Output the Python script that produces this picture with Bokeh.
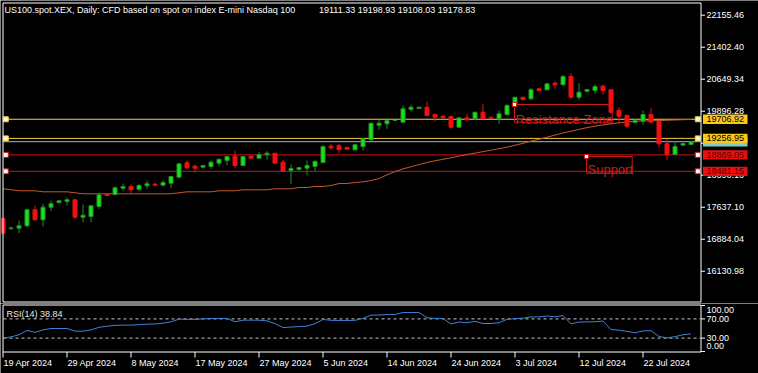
from bokeh.plotting import figure
from bokeh.models import Range1d, ColumnDataSource
from bokeh.core.properties import value
from bokeh.layouts import column
from bokeh.embed import file_html
from bokeh.resources import INLINE

# ---------------- data ----------------
symbol_title = "US100.spot.XEX, Daily:  CFD based on spot on index E-mini Nasdaq 100"
date_labels = ["19 Apr 2024", "29 Apr 2024", "8 May 2024", "17 May 2024", "27 May 2024",
               "5 Jun 2024", "14 Jun 2024", "24 Jun 2024", "3 Jul 2024", "12 Jul 2024", "22 Jul 2024"]
date_label_bars = [0, 8, 16, 24, 32, 40, 48, 56, 64, 72, 80]

open_ = [17365, 17135, 17144, 17200, 17577, 17341, 17638, 17748, 17772, 17812,
         17402, 17419, 17654, 17953, 17937, 18085, 18125, 18061, 18141, 18179,
         18155, 18202, 18344, 18683, 18603, 18579, 18595, 18673, 18737, 18838,
         18619, 18838, 18791, 18871, 18908, 18697, 18501, 18525, 18556, 18595,
         18690, 19073, 19083, 19043, 18988, 19066, 19224, 19567, 19600, 19678,
         19638, 19937, 19960, 19991, 19819, 19779, 19772, 19520, 19741, 19718,
         19873, 19755, 19718, 19819, 20071, 20226, 20188, 20424, 20400, 20555,
         20518, 20713, 20226, 20367, 20384, 20485, 20400, 19913, 19795, 19631,
         19661, 19819, 19661, 19130, 18878, 19097, 19111.33]
high = [17395, 17185, 17325, 17600, 17678, 17718, 17795, 17790, 17859, 17815,
        17701, 17671, 17953, 17967, 18125, 18195, 18172, 18188, 18266, 18212,
        18266, 18362, 18666, 18737, 18635, 18620, 18737, 18768, 18832, 18972,
        18833, 18840, 18932, 18955, 18910, 18753, 18643, 18573, 18737, 18721,
        19090, 19130, 19130, 19045, 19130, 19271, 19615, 19694, 19732, 19682,
        20031, 20047, 19995, 20125, 19836, 19795, 19773, 19743, 19836, 19874,
        20071, 19757, 19913, 20071, 20227, 20227, 20447, 20425, 20555, 20603,
        20753, 20791, 20555, 20408, 20525, 20518, 20402, 19991, 19819, 19718,
        19913, 19967, 19663, 19247, 19191, 19138, 19198.93]
low = [16995, 17100, 17026, 17167, 17325, 17184, 17544, 17718, 17678, 17365,
       17285, 17278, 17600, 17890, 17913, 18031, 17977, 18014, 18071, 18132,
       18132, 18085, 18320, 18532, 18454, 18577, 18541, 18603, 18626, 18556,
       18617, 18788, 18789, 18760, 18659, 18483, 18188, 18501, 18384, 18485,
       18673, 18988, 18908, 19000, 18972, 18972, 19207, 19459, 19483, 19676,
       19636, 19890, 19958, 19794, 19661, 19725, 19483, 19518, 19678, 19694,
       19716, 19730, 19600, 19795, 20054, 20148, 20165, 20382, 20384, 20424,
       20501, 20188, 20165, 20337, 20306, 20290, 19836, 19600, 19497, 19630,
       19577, 19636, 19036, 18753, 18876, 19095, 19108.03]
close = [17026, 17150, 17200, 17577, 17341, 17638, 17718, 17788, 17812, 17402,
         17450, 17671, 17930, 17913, 18094, 18125, 18047, 18148, 18188, 18155,
         18219, 18360, 18659, 18565, 18556, 18619, 18697, 18767, 18831, 18619,
         18831, 18791, 18871, 18908, 18673, 18485, 18548, 18572, 18619, 18720,
         19066, 19036, 18995, 19003, 19106, 19247, 19614, 19614, 19678, 19680,
         19953, 19991, 19991, 19795, 19755, 19748, 19520, 19741, 19694, 19873,
         19718, 19732, 19836, 20031, 20226, 20172, 20400, 20384, 20541, 20518,
         20713, 20226, 20344, 20407, 20478, 20384, 19873, 19779, 19544, 19678,
         19819, 19638, 19130, 18878, 19066, 19137, 19178.83]
moving_avg = [18071, 18047, 18024, 18024, 18024, 18000, 18000, 18000, 18000, 17977,
              17953, 17953, 17953, 17953, 17953, 17953, 17953, 17953, 17953, 17953,
              17953, 17953, 17977, 18000, 18000, 18000, 18000, 18024, 18024, 18024,
              18047, 18047, 18047, 18047, 18071, 18071, 18071, 18101, 18101, 18125,
              18125, 18148, 18195, 18195, 18219, 18235, 18266, 18310, 18400, 18475,
              18540, 18590, 18640, 18690, 18730, 18765, 18800, 18840, 18880, 18910,
              18945, 18980, 19015, 19050, 19095, 19140, 19195, 19235, 19285, 19335,
              19385, 19425, 19470, 19510, 19545, 19575, 19600, 19625, 19645, 19660,
              19668, 19672, 19677, 19683, 19690, 19696, 19701]
rsi = [30, 32.5, 37, 46, 42, 47, 50, 50, 50, 44.5,
       44.5, 47, 52.5, 54.8, 56.5, 57, 57, 58, 59, 59.5,
       61, 64, 69.4, 69, 69, 70, 70.8, 71, 71, 64,
       67.3, 67.3, 67.3, 66, 60, 52, 53, 54, 55, 60,
       68.8, 67, 66.7, 66.7, 67, 71, 77.7, 78, 79.2, 79.2,
       83.3, 83.3, 83.3, 72.5, 71, 70.8, 59.5, 63.5, 62, 65,
       60.4, 60.4, 62, 69, 70.5, 71.5, 74.2, 74.2, 76, 74.5,
       77, 59.5, 63.5, 63.8, 64, 65.5, 48, 46.5, 44, 41,
       45, 45.5, 33.5, 30.4, 33, 37, 38.84]

price_ticks = [22155.46, 21402.40, 20649.34, 19896.28, 19143.22, 18390.16, 17637.10, 16884.04, 16130.98]
resistance_levels = [19706.92, 19256.95]
support_levels = [18869.05, 18481.15]
resistance_zone = [20054, 19638]   # top, bottom price of the drawn zone
support_zone = [18831, 18438]
rsi_levels = [70, 30]
rsi_ticks = [100, 70, 30, 0]

# ---------------- style / layout helpers ----------------
FONT = value("Liberation Sans")
FS = value("9px")
BULL_FILL, BULL_LINE = "#14e614", "#22902a"
BEAR_FILL, BEAR_LINE = "#f01010", "#f01010"
YELLOW = "#f5cd3c"
TAG_YELLOW = "#f8c81e"
RED_LINE = "#c8141a"
TAG_RED = "#e81010"
BID = "#7fcfc6"
MA_COLOR = "#c8582a"
RSI_BLUE = "#3f7fd8"
ZONE_RED = "#d01818"

W, H_MAIN, H_RSI = 758, 303, 70
PX_PER_BAR = 8.0
PX_PER_PT = 23.53          # price units per pixel in the main pane
PRICE_AT_TOP = 22501.4     # price at canvas row 0
RSI_PX = 0.48              # pixels per RSI unit
RSI_ZERO_ROW = 49          # row of RSI 0 inside the RSI canvas


def xb(px):   # screen column -> bar coordinate
    return (px - 2.5) / PX_PER_BAR


def yp(py):   # screen row -> price (main pane)
    return PRICE_AT_TOP - PX_PER_PT * py


def yr(py):   # screen row -> RSI value (RSI pane)
    return (RSI_ZERO_ROW - py) / RSI_PX


x_rng = Range1d(xb(0), xb(W))
n = len(close)
idx = list(range(n))
bull = [c >= o for o, c in zip(open_, close)]
src = ColumnDataSource(dict(
    x=idx, high=high, low=low,
    top=[max(o, c) for o, c in zip(open_, close)],
    bottom=[min(o, c) for o, c in zip(open_, close)],
    fill=[BULL_FILL if b else BEAR_FILL for b in bull],
    line=[BULL_LINE if b else BEAR_LINE for b in bull],
))


def base_fig(h, yrange):
    f = figure(width=W, height=h, x_range=x_rng, y_range=yrange,
               output_backend="svg", toolbar_location=None,
               x_axis_location=None, y_axis_location=None,
               min_border_left=0, min_border_right=0, min_border_top=0, min_border_bottom=0,
               background_fill_color="black", border_fill_color="black", outline_line_color=None)
    f.grid.visible = False
    return f


def label_text(f, xs, ys, texts, color="white", size=FS, align="left", baseline="middle"):
    f.text(x=xs, y=ys, text=texts, text_color=color, text_font=FONT, text_font_size=size,
           text_align=align, text_baseline=baseline)


# ---------------- main price pane ----------------
p = base_fig(H_MAIN, Range1d(yp(H_MAIN), yp(0)))

# level lines
L, R = xb(2.5), xb(700)
for lv in resistance_levels:
    p.segment(x0=[L], x1=[R], y0=[lv], y1=[lv], line_color=YELLOW, line_width=1)
p.segment(x0=[L], x1=[R], y0=[close[-1]], y1=[close[-1]], line_color=BID, line_width=1)
for lv in support_levels:
    p.segment(x0=[L], x1=[R], y0=[lv], y1=[lv], line_color=RED_LINE, line_width=1)

# moving average
p.line(idx, moving_avg, line_color=MA_COLOR, line_width=1)

# candles
p.segment(x0="x", y0="low", x1="x", y1="high", source=src, line_color="line", line_width=1)
p.vbar(x="x", width=0.5, top="top", bottom="bottom", source=src,
       fill_color="fill", line_color="line", line_width=1)

# zones
p.quad(left=[xb(514), xb(586)], right=[xb(611.7), xb(631.7)],
       top=[resistance_zone[0], support_zone[0]], bottom=[resistance_zone[1], support_zone[1]],
       fill_color=None, line_color=ZONE_RED, line_width=1)
label_text(p, [xb(515)], [resistance_levels[0]], ["Resistance Zone"], color=ZONE_RED,
           size=value("13px"), baseline="alphabetic")
label_text(p, [xb(587)], [yp(169)], ["Support"], color=ZONE_RED,
           size=value("13px"), baseline="alphabetic")
p.scatter(x=[xb(514), xb(586)], y=[resistance_zone[0], support_zone[0]], marker="square", size=4,
          fill_color="white", line_color=ZONE_RED, line_width=1)

# line end markers
lx = [xb(5.3), xb(697.3)]
p.scatter(x=lx * 2, y=[resistance_levels[0]] * 2 + [resistance_levels[1]] * 2, marker="square", size=5,
          fill_color="#fff6c8", line_color=YELLOW, line_width=1)
p.scatter(x=lx * 2, y=[support_levels[0]] * 2 + [support_levels[1]] * 2, marker="square", size=5,
          fill_color="white", line_color=RED_LINE, line_width=1)

# frame of the price pane
p.quad(left=[xb(2.5)], right=[xb(700.5)], top=[yp(2.5)], bottom=[yp(301.5)],
       fill_color=None, line_color="white", line_width=1)

# price scale (right)
p.segment(x0=[xb(700.5)] * len(price_ticks), x1=[xb(704.5)] * len(price_ticks),
          y0=price_ticks, y1=price_ticks, line_color="white", line_width=1)
label_text(p, [xb(706)] * len(price_ticks), price_ticks, [f"{t:.2f}" for t in price_ticks])

# price tags (bid tag sits underneath, mostly hidden)
half = 4.7 * PX_PER_PT
p.quad(left=[xb(702.5)], right=[xb(747)], top=[close[-1] + half], bottom=[close[-1] - half],
       fill_color=BID, line_color=None)
tags = [(resistance_levels[0], TAG_YELLOW, "black"),
        (resistance_levels[1], TAG_YELLOW, "black"),
        (support_levels[0], TAG_RED, "#5a0000"),
        (support_levels[1], TAG_RED, "#5a0000")]
for lv, bg, fg in tags:
    p.quad(left=[xb(702.5)], right=[xb(747)], top=[lv + half], bottom=[lv - half],
           fill_color=bg, line_color=None)
    label_text(p, [xb(706)], [lv], [f"{lv:.2f}"], color=fg)

# header
label_text(p, [xb(4)], [yp(9)], [symbol_title])
label_text(p, [xb(318.5)], [yp(9)], [f"{open_[-1]:.2f} {high[-1]:.2f} {low[-1]:.2f} {close[-1]:.2f}"])

# ---------------- RSI pane ----------------
r = base_fig(H_RSI, Range1d(yr(H_RSI), yr(0)))
for lv in rsi_levels:
    r.segment(x0=[xb(3)], x1=[xb(700)], y0=[lv], y1=[lv], line_color="#c8c8c8",
              line_width=1, line_dash="3 3")
r.line(idx, rsi, line_color=RSI_BLUE, line_width=1)

r.quad(left=[xb(2.5)], right=[xb(700.5)], top=[yr(1.5)], bottom=[yr(48.5)],
       fill_color=None, line_color="white", line_width=1)

# RSI scale
r.segment(x0=[xb(700.5)] * 4, x1=[xb(704.5)] * 4, y0=[yr(2)] + rsi_levels + [yr(48)],
          y1=[yr(2)] + rsi_levels + [yr(48)], line_color="white", line_width=1)
label_text(r, [xb(706)] * 4, [yr(6)] + rsi_levels + [yr(42.7)], [f"{t:.2f}" for t in rsi_ticks])
label_text(r, [xb(6)], [yr(10.3)], [f"RSI(14) {rsi[-1]:.2f}"], color="#e8e8e8")

# date scale
r.segment(x0=date_label_bars, x1=date_label_bars, y0=[yr(48.5)] * len(date_label_bars),
          y1=[yr(54)] * len(date_label_bars), line_color="white", line_width=1)
label_text(r, [b + 0.05 for b in date_label_bars], [yr(59)] * len(date_label_bars), date_labels)

layout = column(p, r, spacing=0)
open("out.html", "w").write(file_html(layout, INLINE))
